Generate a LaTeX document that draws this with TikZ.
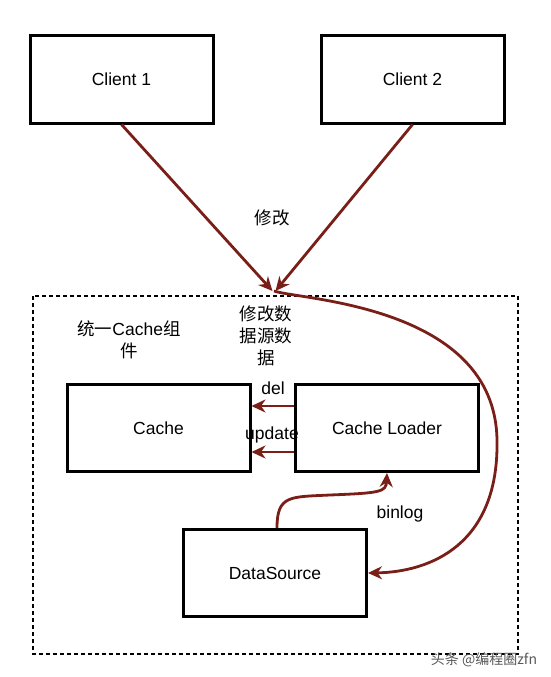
\documentclass[tikz,border=0pt]{standalone}
\usepackage{fontspec}
\setmainfont{Liberation Sans}
\newfontfamily\cjk{Noto Sans CJK SC}
\usetikzlibrary{arrows.meta}
\definecolor{arrred}{HTML}{7A1F18}
\tikzset{
  box/.style={draw=black, line width=3pt, minimum width=183pt, minimum height=87pt, font=\fontsize{17.5}{20}\selectfont, inner sep=0pt},
  arr/.style={draw=arrred, line width=2.8pt, -{Stealth[length=14pt,width=13pt,inset=4.5pt]}},
  lbl/.style={font=\fontsize{17.5}{20}\selectfont, inner sep=0pt},
  cjklbl/.style={font=\cjk\fontsize{17.5}{22}\selectfont, inner sep=0pt, align=center},
}
\begin{document}
\begin{tikzpicture}[x=1pt,y=-1pt]
\fill[white] (0,0) rectangle (550,677);
\useasboundingbox (0,0) rectangle (550,677);
% dashed frame
\draw[line width=1.3pt, dash pattern=on 4pt off 3pt] (33,296) rectangle (518,654);
% boxes
\node[box] (c1) at (121.5,79.5) {Client 1};
\node[box] (c2) at (412.5,79.5) {Client 2};
\node[box] (cache) at (158.5,428) {Cache};
\node[box] (loader) at (387,428) {Cache Loader};
\node[box] (ds) at (275,573) {DataSource};
\coordinate (m) at (274,291);
% client arrows
\draw[arr] (c1.south) -- ([xshift=-1.5pt]m);
\draw[arr] (c2.south) -- ([xshift=1.5pt]m);
% curve to datasource
\draw[arr] (m) .. controls (300,300) and (495,305) .. (497,440) .. controls (499,545) and (430,572) .. (ds.east);
% del / update
\draw[arr] (loader.west |- 0,406) -- (cache.east |- 0,406);
\draw[arr] (loader.west |- 0,452) -- (cache.east |- 0,452);
% binlog
\draw[arr] ([xshift=2pt]ds.north) .. controls (277,495) and (290,497) .. (330,495) .. controls (380,493) and (386,492) .. (loader.south);
% labels
\node[cjklbl] (l1) at (272,218) {修改};
\node[cjklbl] (l2) at (266,336) {修改数\\据源数\\据};
\node[cjklbl] (l3) at (129,340) {统一{\fontspec{Liberation Sans}Cache}组\\件};
\node[lbl] (del) at (273,388) {del};
\node[lbl] (upd) at (272,435) {update};
\node[lbl] (bin) at (400,514) {binlog};
\node[font=\cjk\fontsize{14}{16}\selectfont, text=black!65, inner sep=0pt] (wm) at (484,660) {头条 @编程圈zfn};
\end{tikzpicture}
\end{document}
